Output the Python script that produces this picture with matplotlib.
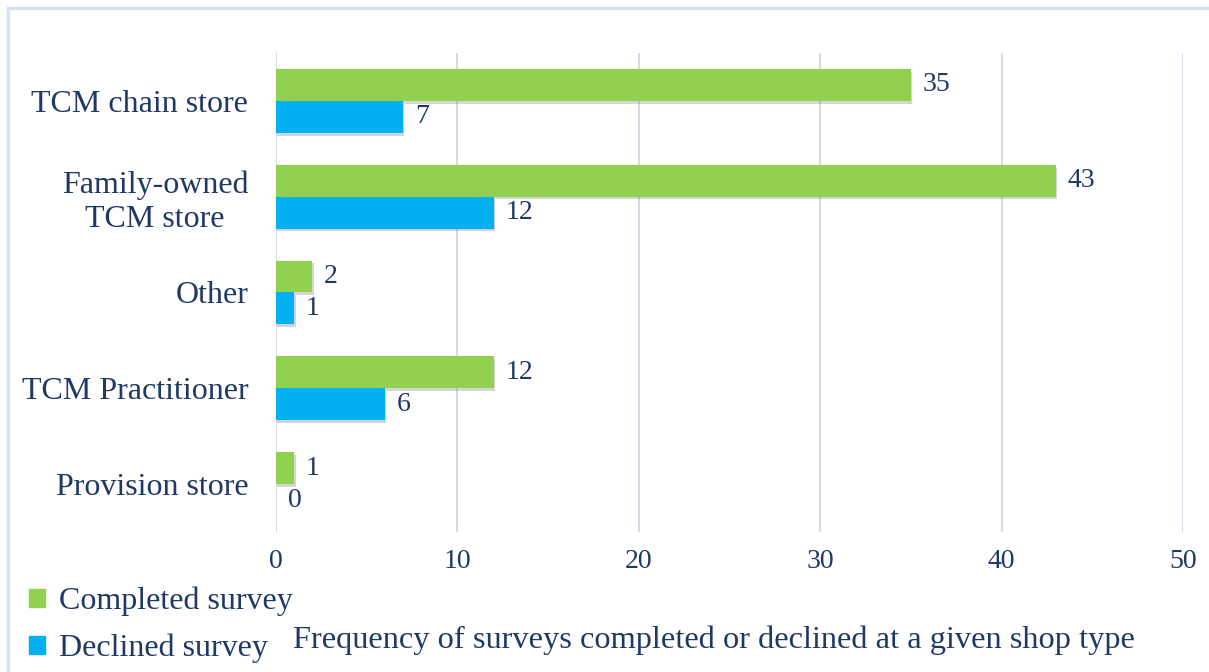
import matplotlib.pyplot as plt
import matplotlib.patheffects as pe
from matplotlib.patches import Patch, Rectangle
import numpy as np

categories = ['TCM chain store', 'Family-owned\nTCM store', 'Other', 'TCM Practitioner', 'Provision store']
completed = [35, 43, 2, 12, 1]
declined = [7, 12, 1, 6, 0]
x_ticks = [0, 10, 20, 30, 40, 50]

green = '#92D050'
blue = '#00B0F0'
text_color = '#1F3864'
plt.rcParams['font.family'] = ['Liberation Serif', 'DejaVu Serif']

fig = plt.figure(figsize=(12.09, 6.72), dpi=100)
ax = fig.add_axes([276 / 1209, 1 - 532 / 672, (1183 - 276) / 1209, (532 - 53) / 672])

# top category first
y = np.arange(len(categories))[::-1]
h = 0.333
shadow = [pe.SimplePatchShadow(offset=(1, -2), alpha=0.2), pe.Normal()]
b1 = ax.barh(y + h / 2, completed, height=h, color=green, path_effects=shadow, zorder=3)
b2 = ax.barh(y - h / 2, declined, height=h, color=blue, path_effects=shadow, zorder=3)

for bars, vals in ((b1, completed), (b2, declined)):
    for bar, v in zip(bars, vals):
        ax.annotate(str(v), (v, bar.get_y() + bar.get_height() / 2), xytext=(8.5, 0),
                    textcoords='offset points', ha='left', va='center',
                    fontsize=20, color=text_color)

ax.set_xlim(0, 50)
ax.set_ylim(-0.5, 4.5)
ax.set_xticks(x_ticks)
ax.set_yticks(y)
ax.set_yticklabels(categories, fontsize=23, color=text_color, multialignment='center')
ax.tick_params(axis='x', labelsize=20, colors=text_color, length=0, pad=12)
ax.tick_params(axis='y', length=0, pad=20)
ax.grid(axis='x', color='#D0D8E6', linewidth=1.3, zorder=0)
for s in ax.spines.values():
    s.set_visible(False)

handles = [Patch(color=green, label='Completed survey'), Patch(color=blue, label='Declined survey')]
fig.legend(handles=handles, loc='upper left', bbox_to_anchor=(16 / 1209, 1 - 574 / 672),
           frameon=False, fontsize=23, handlelength=0.5, handleheight=0.5,
           handletextpad=0.45, labelspacing=0.55, labelcolor=text_color, borderaxespad=0)

fig.text(293 / 1209, 1 - 640 / 672, 'Frequency of surveys completed or declined at a given shop type',
         fontsize=23.3, color=text_color, va='center', ha='left')

fig.patches.append(Rectangle((8 / 1209, -0.1), 1.2, 1 - 8 / 672 + 0.1, transform=fig.transFigure,
                             fill=False, edgecolor='#D6E2F2', linewidth=2.5))

fig.savefig('out.png', dpi=100)
